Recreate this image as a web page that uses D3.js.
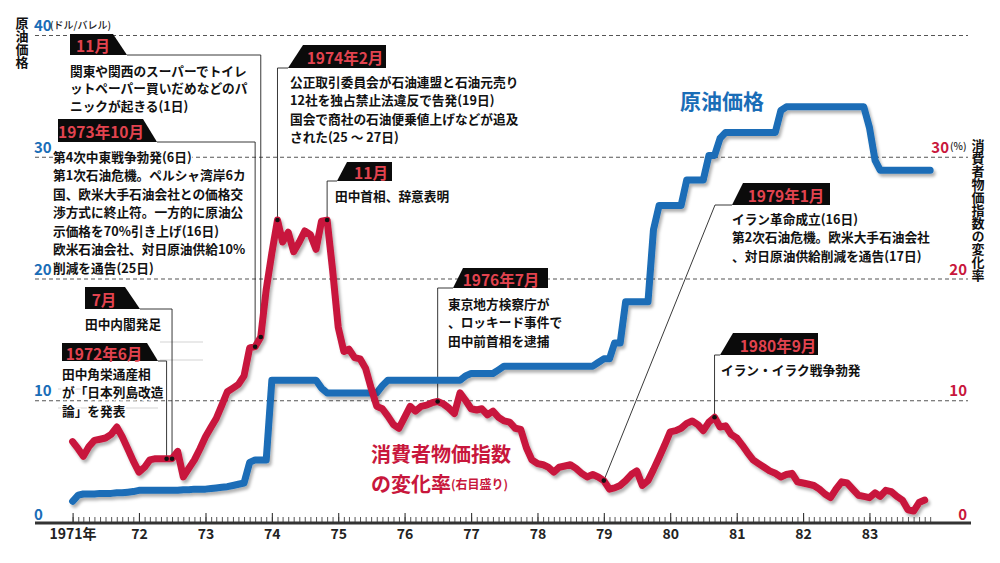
<!DOCTYPE html>
<html>
<head>
<meta charset="utf-8">
<script src="https://cdn.jsdelivr.net/npm/d3@7"></script>
<style>
body { margin: 0; background: #fff; }
svg { display: block; }
text { font-family: "Noto Sans CJK JP", "Noto Sans", sans-serif; font-weight: 700; }
.num { font-family: "Liberation Sans Narrow", "Noto Sans CJK JP", sans-serif; }
</style>
</head>
<body>
<div id="chart"></div>
<script>
// ---- data ----
var yearLabels = ["1971年", "72", "73", "74", "75", "76", "77", "78", "79", "80", "81", "82", "83"];
var leftTicks = [0, 10, 20, 30, 40];
var rightTicks = [0, 10, 20, 30];

// 原油価格 (ドル/バレル), monthly Jan 1971 - Dec 1983
var oilPrice = [
  1.7, 2.2, 2.3, 2.3, 2.3, 2.35, 2.35, 2.35, 2.4, 2.4, 2.45, 2.5,
  2.6, 2.6, 2.6, 2.6, 2.6, 2.6, 2.6, 2.6, 2.65, 2.65, 2.7, 2.7,
  2.7, 2.75, 2.8, 2.85, 2.9, 3.0, 3.1, 3.2, 4.9, 5.1, 5.1, 5.1,
  11.65, 11.65, 11.65, 11.65, 11.65, 11.65, 11.65, 11.65, 11.65, 11.0, 10.6, 10.6,
  10.6, 10.6, 10.6, 10.6, 10.6, 10.6, 10.6, 10.6, 11.2, 11.65, 11.65, 11.65,
  11.65, 11.65, 11.65, 11.65, 11.65, 11.65, 11.65, 11.65, 11.65, 11.65, 11.65, 12.0,
  12.2, 12.2, 12.2, 12.2, 12.2, 12.5, 12.8, 12.8, 12.8, 12.8, 12.8, 12.8,
  12.8, 12.8, 12.8, 12.8, 12.8, 12.8, 12.8, 12.8, 12.8, 12.8, 12.8, 13.1,
  13.4, 13.4, 14.7, 14.7, 18.1, 18.1, 18.1, 18.1, 18.1, 24.0, 26.0, 26.0,
  26.0, 26.0, 26.0, 28.1, 28.1, 28.1, 28.1, 30.1, 30.1, 31.5, 32.0, 32.0,
  32.0, 32.0, 32.0, 32.0, 32.0, 32.0, 32.0, 32.0, 33.8, 34.1, 34.1, 34.1,
  34.1, 34.1, 34.1, 34.1, 34.1, 34.1, 34.1, 34.1, 34.1, 34.1, 34.1, 34.1,
  32.4, 29.7, 28.9, 28.9, 28.9, 28.9, 28.9, 28.9, 28.9, 28.9, 28.9, 28.9
];

// 消費者物価指数の変化率 (%), monthly Jan 1971 - Nov 1983
var cpiRate = [
  6.6, 6.0, 5.4, 6.2, 6.7, 6.8, 6.9, 7.2, 7.8, 7.0, 6.0, 5.0,
  4.1, 4.5, 5.1, 5.2, 5.2, 5.2, 5.2, 5.8, 3.7, 4.4, 5.1, 6.0,
  7.0, 7.8, 8.5, 9.6, 10.7, 11.0, 11.3, 12.0, 14.3, 14.4, 15.2, 19.1,
  22.1, 24.8, 23.0, 23.8, 22.2, 23.0, 23.9, 23.6, 22.4, 24.7, 24.8, 20.7,
  16.0, 14.0, 14.2, 13.5, 13.4, 12.6, 11.0, 9.5, 9.3, 8.7, 8.0, 7.7,
  8.6, 9.5, 9.1, 9.5, 9.6, 9.8, 9.9, 9.7, 9.35, 8.9, 10.6, 10.0,
  9.3, 9.2, 9.3, 8.8, 9.1, 8.6, 8.3, 8.2, 7.7, 7.6, 6.1, 5.1,
  4.8, 4.7, 4.5, 4.1, 4.5, 4.6, 4.7, 4.4, 4.0, 3.7, 3.9, 3.7,
  3.4, 2.7, 2.8, 3.0, 3.4, 3.9, 4.2, 3.0, 3.4, 4.3, 5.3, 6.3,
  7.4, 7.5, 7.7, 8.1, 8.3, 8.0, 7.5, 8.2, 8.6, 7.8, 7.9, 7.2,
  6.9, 6.3, 5.7, 5.1, 4.8, 4.5, 4.2, 4.0, 3.7, 3.9, 4.0, 3.3,
  3.2, 3.1, 3.0, 2.7, 2.3, 2.0, 2.7, 3.3, 3.2, 2.7, 2.2, 2.1,
  2.0, 2.4, 2.1, 2.6, 2.5, 2.1, 1.8, 1.0, 0.9, 1.6, 1.8
];

var eventMonths = ["1972-06", "1972-07", "1973-10", "1973-11", "1974-02", "1974-11", "1976-07", "1979-01", "1980-09"];
var eventTags = ["1972年6月", "7月", "1973年10月", "11月", "1974年2月", "11月", "1976年7月", "1979年1月", "1980年9月"];
var eventTexts = [
  ["田中角栄通産相", "が「日本列島改造", "論」を発表"],
  ["田中内閣発足"],
  ["第4次中東戦争勃発(6日)", "第1次石油危機。ペルシャ湾岸6カ", "国、欧米大手石油会社との価格交",
   "渉方式に終止符。一方的に原油公", "示価格を70%引き上げ(16日)", "欧米石油会社、対日原油供給10%", "削減を通告(25日)"],
  ["関東や関西のスーパーでトイレ", "ットペーパー買いだめなどのパ", "ニックが起きる(1日)"],
  ["公正取引委員会が石油連盟と石油元売り", "12社を独占禁止法違反で告発(19日)", "国会で商社の石油便乗値上げなどが追及", "された(25 〜 27日)"],
  ["田中首相、辞意表明"],
  ["東京地方検察庁が", "、ロッキード事件で", "田中前首相を逮捕"],
  ["イラン革命成立(16日)", "第2次石油危機。欧米大手石油会社", "、対日原油供給削減を通告(17日)"],
  ["イラン・イラク戦争勃発"]
];

// ---- layout ----
// tab box: xl/xr left & right, y0/y1 top & bottom, s slant, side of slant; lx label centre; tx,ty,dy text block; bx bend of connector
var eventLayout = [
  {xl: 62, xr: 158, y0: 343, y1: 361, s: 11, side: "r", lx: 104, tx: 62, ty: 373, dy: 18.5},
  {xl: 85, xr: 140, y0: 287, y1: 309, s: 15, side: "r", lx: 104, tx: 85, ty: 323, dy: 18.5},
  {xl: 58, xr: 157, y0: 119, y1: 142, s: 14, side: "r", lx: 101, tx: 53, ty: 156, dy: 18.5},
  {xl: 70, xr: 127, y0: 34, y1: 55, s: 14, side: "r", lx: 93, tx: 70, ty: 70, dy: 17.5},
  {xl: 288, xr: 386, y0: 45, y1: 68, s: 15, side: "l", lx: 345, tx: 290, ty: 81, dy: 18.5},
  {xl: 337, xr: 392, y0: 162, y1: 181, s: 10, side: "l", lx: 371, tx: 335, ty: 195, dy: 18.5},
  {xl: 453, xr: 548, y0: 268, y1: 288, s: 10, side: "l", lx: 501, tx: 448, ty: 303, dy: 18.5},
  {xl: 732, xr: 830, y0: 183, y1: 205, s: 11, side: "l", lx: 786, tx: 732, ty: 218, dy: 18.5, bx: 715},
  {xl: 720, xr: 818, y0: 333, y1: 355, s: 13, side: "l", lx: 778, tx: 721, ty: 369, dy: 18.5}
];

var BLUE = "#1a6db7", RED = "#c8173c", TAGRED = "#e2434f";
var width = 1000, height = 563;

var svg = d3.select("#chart").append("svg")
  .attr("width", width).attr("height", height);

var defs = svg.append("defs");
var f = defs.append("filter").attr("id", "shadow")
  .attr("filterUnits", "userSpaceOnUse")
  .attr("x", 0).attr("y", 0).attr("width", width).attr("height", height);
f.append("feDropShadow").attr("dx", 2).attr("dy", 3).attr("stdDeviation", 1.6)
  .attr("flood-color", "#000").attr("flood-opacity", 0.3);

var parseM = d3.timeParse("%Y-%m");
var t0 = new Date(1971, 0, 1), t1 = new Date(1984, 0, 1);
var months = d3.timeMonths(t0, t1);
var years = d3.timeYears(t0, t1);

var x = d3.scaleTime().domain([t0, t1]).range([72.6, 935.8]);
var y = d3.scaleLinear().domain([0, 40]).range([522, 35]);

// grid
var grid = svg.append("g").attr("transform", "translate(35,0)")
  .call(d3.axisRight(y).tickValues([10, 20, 30, 40]).tickSize(933).tickFormat(""));
grid.select(".domain").remove();
grid.selectAll("line").attr("stroke", "#555").attr("stroke-width", 1.1).attr("stroke-dasharray", "4,3");

// faint guide lines
[[160, 203, 342], [160, 203, 360], [58, 158, 389], [58, 158, 408]].forEach(function (g) {
  svg.append("line").attr("x1", g[0]).attr("x2", g[1]).attr("y1", g[2]).attr("y2", g[2])
    .attr("stroke", "#c8c8c8").attr("stroke-width", 0.8);
});

// bottom axis
var minor = svg.append("g").attr("transform", "translate(0,522)")
  .call(d3.axisBottom(x).tickValues(months).tickSize(-5).tickFormat(""));
minor.select(".domain").remove();
minor.selectAll("line").attr("stroke", "#444").attr("stroke-width", 0.9);

var major = svg.append("g").attr("transform", "translate(0,522)")
  .call(d3.axisBottom(x).tickValues(years).tickSize(-9).tickPadding(7)
    .tickFormat(function (d, i) { return yearLabels[i]; }));
major.select(".domain").remove();
major.selectAll("line").attr("stroke", "#333").attr("stroke-width", 1.1);
major.selectAll("text").attr("class", "num").attr("font-size", 14).attr("fill", "#222")
  .style("font-weight", 700);

svg.append("line").attr("x1", 35).attr("x2", 971).attr("y1", 523).attr("y2", 523)
  .attr("stroke", "#333").attr("stroke-width", 3);

// left axis labels
svg.selectAll(".lt").data(leftTicks).enter().append("text")
  .attr("class", "num").attr("x", 34)
  .attr("y", function (d) { return y(d) - (d === 0 ? 9 : 10.5); })
  .attr("dominant-baseline", "central")
  .attr("font-size", 15).attr("fill", BLUE)
  .text(function (d) { return d; });
svg.append("text").attr("x", 50).attr("y", 24).attr("dominant-baseline", "central")
  .attr("font-size", 10).attr("fill", "#222").style("font-weight", 500).text("(ドル/バレル)");

// right axis labels
svg.selectAll(".rt").data(rightTicks).enter().append("text")
  .attr("class", "num")
  .attr("x", function (d) { return d === 30 ? 949 : 967; })
  .attr("y", function (d) { return y(d) - (d === 0 ? 9 : 10.5); })
  .attr("text-anchor", "end").attr("dominant-baseline", "central")
  .attr("font-size", 15).attr("fill", RED)
  .text(function (d) { return d; });
svg.append("text").attr("x", 950).attr("y", 145).attr("dominant-baseline", "central")
  .attr("font-size", 10).attr("fill", "#222").style("font-weight", 500).text("(%)");

// vertical titles
svg.append("text").attr("x", 22).attr("y", 17)
  .style("writing-mode", "vertical-rl").attr("font-size", 13).attr("fill", "#111")
  .text("原油価格");
svg.append("text").attr("x", 978).attr("y", 139)
  .style("writing-mode", "vertical-rl").attr("font-size", 13).attr("fill", "#111")
  .text("消費者物価指数の変化率");

// series labels
svg.append("text").attr("x", 680).attr("y", 100).attr("dominant-baseline", "central")
  .attr("font-size", 21).attr("fill", BLUE).text("原油価格");
svg.append("text").attr("x", 371).attr("y", 453).attr("dominant-baseline", "central")
  .attr("font-size", 20).attr("fill", RED).text("消費者物価指数");
var cpiLabel2 = svg.append("text").attr("x", 371).attr("y", 483).attr("dominant-baseline", "central")
  .attr("fill", RED);
cpiLabel2.append("tspan").attr("font-size", 20).text("の変化率");
cpiLabel2.append("tspan").attr("font-size", 12).text("(右目盛り)");

// annotation texts (white halo hides the grid under them)
eventTexts.forEach(function (lines, i) {
  var L = eventLayout[i];
  svg.append("g").selectAll("text").data(lines).enter().append("text")
    .attr("x", L.tx).attr("y", function (d, j) { return L.ty + j * L.dy; })
    .attr("dominant-baseline", "central")
    .attr("font-size", 12.7).attr("fill", "#111")
    .attr("stroke", "#fff").attr("stroke-width", 3).attr("paint-order", "stroke")
    .text(function (d) { return d; });
});

// connectors
eventMonths.forEach(function (m, i) {
  var L = eventLayout[i];
  var d = parseM(m);
  var v = cpiRate[d3.timeMonth.count(t0, d)];
  var px = x(d), py = y(v);
  var sx = L.side === "r" ? L.xr : L.xl;
  var pts = L.bx ? [[sx, L.y1], [L.bx, L.y1], [px, py]] : [[sx, L.y1], [px, L.y1], [px, py]];
  svg.append("path").attr("d", d3.line()(pts))
    .attr("fill", "none").attr("stroke", "#222").attr("stroke-width", 0.9);
});

// lines
var line = d3.line()
  .x(function (d) { return x(d.d); })
  .y(function (d) { return y(d.v); });

var oilData = oilPrice.map(function (v, i) { return {d: months[i], v: v}; });
var cpiData = cpiRate.map(function (v, i) { return {d: months[i], v: v}; });

svg.append("path").datum(oilData).attr("d", line)
  .attr("fill", "none").attr("stroke", BLUE).attr("stroke-width", 7)
  .attr("stroke-linejoin", "round").attr("stroke-linecap", "round")
  .attr("filter", "url(#shadow)");
svg.append("path").datum(cpiData).attr("d", line)
  .attr("fill", "none").attr("stroke", RED).attr("stroke-width", 7)
  .attr("stroke-linejoin", "round").attr("stroke-linecap", "round")
  .attr("filter", "url(#shadow)");

// event dots
svg.selectAll(".dot").data(eventMonths).enter().append("circle")
  .attr("cx", function (m) { return x(parseM(m)); })
  .attr("cy", function (m) { return y(cpiRate[d3.timeMonth.count(t0, parseM(m))]); })
  .attr("r", 2.3).attr("fill", "#111");

// tabs
eventTags.forEach(function (tag, i) {
  var L = eventLayout[i];
  var pts = L.side === "r"
    ? [[L.xl, L.y0], [L.xr - L.s, L.y0], [L.xr, L.y1], [L.xl, L.y1]]
    : [[L.xl + L.s, L.y0], [L.xr, L.y0], [L.xr, L.y1], [L.xl, L.y1]];
  svg.append("polygon").attr("points", pts.map(function (p) { return p.join(","); }).join(" "))
    .attr("fill", "#0b0b0b");
  svg.append("text").attr("x", L.lx).attr("y", (L.y0 + L.y1) / 2 + 0.5)
    .attr("text-anchor", "middle").attr("dominant-baseline", "central")
    .attr("font-size", 15.5).attr("fill", TAGRED).text(tag);
});
</script>
</body>
</html>
